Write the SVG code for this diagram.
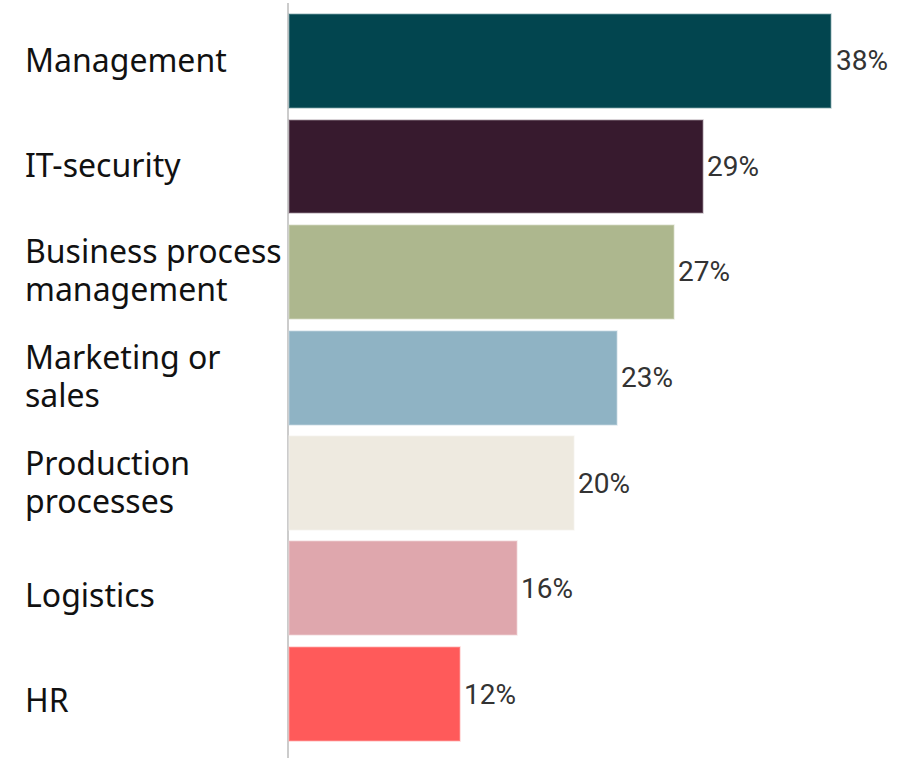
<svg xmlns="http://www.w3.org/2000/svg" width="907" height="758" viewBox="0 0 907 758">
<style>
.lbl{font-family:"Noto Sans","Open Sans",sans-serif;font-size:32px;fill:#111}
.val{font-family:Roboto,"Liberation Sans",sans-serif;font-size:28px;fill:#333}
.bar{stroke-width:1.5;stroke-opacity:0.5}
</style>
<rect width="907" height="758" fill="#fff"/>
<g id="axis"><line x1="288" y1="3" x2="288" y2="758" stroke="#ccc" stroke-width="2"/></g>
<g id="management"><rect class="bar" x="289" y="14" width="542" height="94" fill="#02454F" stroke="#7fa5aa"/><text class="lbl" x="25" y="72">Management</text><text class="val" x="836" y="70">38%</text></g>
<g id="it-security"><rect class="bar" x="289" y="120" width="414" height="93" fill="#371A2E" stroke="#9a8a95"/><text class="lbl" x="25" y="177">IT-security</text><text class="val" x="707" y="176">29%</text></g>
<g id="bpm"><rect class="bar" x="289" y="225" width="385" height="94" fill="#ADB78E" stroke="#d5dbc5"/><text class="lbl" x="25" y="263">Business process</text><text class="lbl" x="25" y="301">management</text><text class="val" x="678" y="281">27%</text></g>
<g id="marketing"><rect class="bar" x="289" y="331" width="328" height="94" fill="#8FB3C4" stroke="#c5d8e1"/><text class="lbl" x="25" y="369">Marketing or</text><text class="lbl" x="25" y="407">sales</text><text class="val" x="621" y="387">23%</text></g>
<g id="production"><rect class="bar" x="289" y="436" width="285" height="94" fill="#EEEAE0" stroke="#f5f3ee"/><text class="lbl" x="25" y="475">Production</text><text class="lbl" x="25" y="513">processes</text><text class="val" x="578" y="493">20%</text></g>
<g id="logistics"><rect class="bar" x="289" y="541" width="228" height="94" fill="#DFA7AD" stroke="#efd3d6"/><text class="lbl" x="25" y="607">Logistics</text><text class="val" x="521" y="598">16%</text></g>
<g id="hr"><rect class="bar" x="289" y="647" width="171" height="94" fill="#FF5A5A" stroke="#ffacac"/><text class="lbl" x="25" y="712">HR</text><text class="val" x="464" y="704">12%</text></g>
</svg>
